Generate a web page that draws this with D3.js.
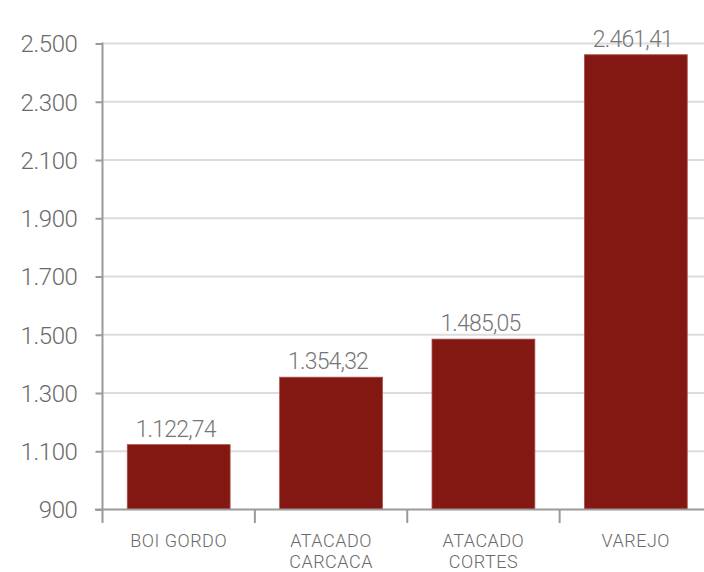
<!DOCTYPE html>
<html><head><meta charset="utf-8">
<script src="https://cdn.jsdelivr.net/npm/d3@7"></script>
<style>
body{margin:0;background:#fff;}
text{font-family:Roboto,"Open Sans",sans-serif;font-weight:300;}
</style></head>
<body><svg id="c" width="704" height="572"></svg>
<script>
const categories = [["BOI GORDO"],["ATACADO","CARCACA"],["ATACADO","CORTES"],["VAREJO"]];
const values = [1122.74, 1354.32, 1485.05, 2461.41];
const valueLabels = ["1.122,74","1.354,32","1.485,05","2.461,41"];
const yTicks = [900,1100,1300,1500,1700,1900,2100,2300,2500];
const yTickLabels = ["900","1.100","1.300","1.500","1.700","1.900","2.100","2.300","2.500"];

(function(){
const svg = d3.select("#c");
const mLeft = 102.5, mRight = 712, mTop = 43.5, mBottom = 509.5;
const keys = categories.map(c=>c.join(" "));
const x = d3.scaleBand().domain(keys).range([mLeft,mRight]).paddingInner(0.325).paddingOuter(0.1625);
const y = d3.scaleLinear().domain([900,2500]).range([mBottom,mTop]);

// grid
svg.append("g").selectAll("line").data(yTicks.slice(1)).join("line")
  .attr("x1",mLeft).attr("x2",704).attr("y1",d=>y(d)).attr("y2",d=>y(d))
  .attr("stroke","#dcdcdc").attr("stroke-width",2);

// bars
svg.append("g").selectAll("rect").data(values).join("rect")
  .attr("x",(d,i)=>x(keys[i])).attr("width",x.bandwidth())
  .attr("y",d=>y(d)).attr("height",d=>mBottom-y(d))
  .attr("fill","#831812").attr("stroke","#a8514c").attr("stroke-width",0.8);

// value labels
svg.append("g").selectAll("text").data(values).join("text")
  .attr("x",(d,i)=>x(keys[i])+x.bandwidth()/2-3).attr("y",d=>y(d)-8)
  .attr("text-anchor","middle").attr("font-size",23).attr("letter-spacing",-0.8)
  .attr("fill","#767676").text((d,i)=>valueLabels[i]);

// y axis
const ya = svg.append("g").attr("transform",`translate(${mLeft},0)`)
  .call(d3.axisLeft(y).tickValues(yTicks).tickFormat((d,i)=>yTickLabels[i]).tickSize(7).tickPadding(18));
ya.select(".domain").remove();
ya.selectAll(".tick line").attr("stroke","#9a9a9a").attr("stroke-width",2);
ya.selectAll(".tick text").attr("font-size",24).attr("letter-spacing",-0.4).attr("fill","#6a6a6a")
  .attr("font-family","Roboto").attr("font-weight",300).attr("dy","0.35em");
svg.append("line").attr("x1",mLeft).attr("x2",mLeft).attr("y1",mTop-1).attr("y2",523)
  .attr("stroke","#9a9a9a").attr("stroke-width",2);

// x axis
svg.append("line").attr("x1",95).attr("x2",704).attr("y1",mBottom).attr("y2",mBottom)
  .attr("stroke","#9a9a9a").attr("stroke-width",2);
const step = x.step();
const bounds = keys.map((k,i)=>mLeft + i*step).concat([mLeft+keys.length*step]);
svg.append("g").selectAll("line").data(bounds.slice(1)).join("line")
  .attr("x1",d=>d).attr("x2",d=>d).attr("y1",mBottom).attr("y2",523)
  .attr("stroke","#9a9a9a").attr("stroke-width",2);

const cl = svg.append("g").selectAll("text").data(categories).join("text")
  .attr("x",(d,i)=>x(keys[i])+x.bandwidth()/2).attr("y",547)
  .attr("text-anchor","middle").attr("font-size",18).attr("fill","#6a6a6a").attr("letter-spacing",0.5);
cl.selectAll("tspan").data(d=>d).join("tspan")
  .attr("x",function(){return this.parentNode.getAttribute("x");})
  .attr("dy",(d,i)=>i===0?0:21).text(d=>d);
})();
</script></body></html>
